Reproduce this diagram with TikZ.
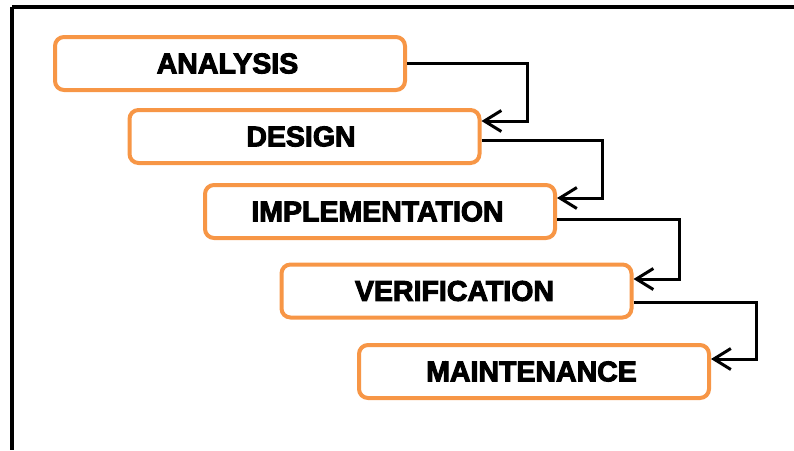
\documentclass[tikz,border=0pt]{standalone}
\usepackage{fontspec}
\newfontfamily\phasefont{Liberation Sans}[BoldFeatures={FakeBold=3.5}]
\usetikzlibrary{arrows.meta}
\definecolor{phaseorange}{HTML}{F79646}
\begin{document}
\begin{tikzpicture}[x=1pt,y=-1pt,
		phase/.style={draw=phaseorange, line width=4pt, rounded corners=9pt, fill=white,
			minimum width=350pt, minimum height=53pt, inner sep=0pt,
			font=\phasefont\bfseries\fontsize{28.5}{30}\selectfont},
		flow/.style={line width=3pt, -{Straight Barb[length=17pt,width=21pt,line width=3pt]}}]
			\useasboundingbox (0,0) rectangle (794,450);
			\draw[line width=3.2pt] (12,7) -- (794,7);
			\draw[line width=3.2pt] (12,7) -- (12,450);
			\node[phase] (ana) at (230,63.5) {\hspace*{-5pt}ANALYSIS};
			\node[phase] (des) at (304.5,136.5) {\hspace*{-7pt}DESIGN};
			\node[phase] (imp) at (380,211.5) {\hspace*{-5pt}IMPLEMENTATION};
			\node[phase] (ver) at (456.5,291) {\hspace*{-4pt}VERIFICATION};
			\node[phase] (mai) at (534,371.5) {\hspace*{-5pt}MAINTENANCE};
			\draw[flow] (ana.east) -- ++(120,0) |- ([yshift=15.5pt]des.east);
			\draw[flow] ([yshift=-3.5pt]des.east) -- ++(121,0) |- ([yshift=13.5pt]imp.east);
			\draw[flow] ([yshift=-7.5pt]imp.east) -- ++(122,0) |- ([yshift=12pt]ver.east);
			\draw[flow] ([yshift=-11pt]ver.east) -- ++(123,0) |- ([yshift=12.5pt]mai.east);
		\end{tikzpicture}
\end{document}
